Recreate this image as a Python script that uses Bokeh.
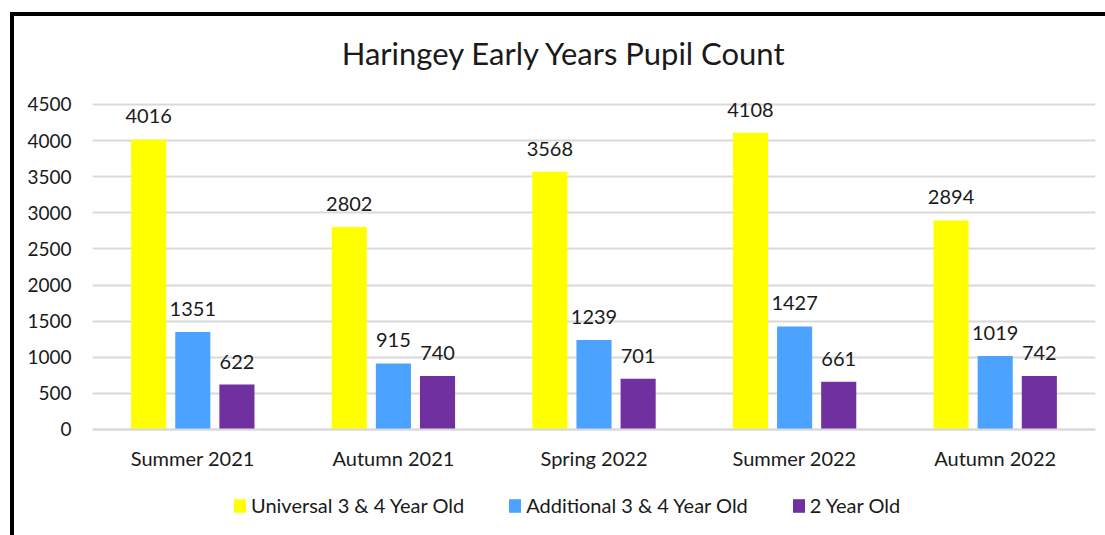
from bokeh.plotting import figure
from bokeh.models import (ColumnDataSource, FactorRange, Range1d, Legend, LegendItem,
                          FixedTicker, LabelSet, Label)
from bokeh.core.properties import value
from bokeh.transform import dodge
from bokeh.embed import file_html
from bokeh.resources import INLINE

terms = ["Summer 2021", "Autumn 2021", "Spring 2022", "Summer 2022", "Autumn 2022"]
series_names = ["Universal 3 & 4 Year Old", "Additional 3 & 4 Year Old", "2 Year Old"]
universal = [4016, 2802, 3568, 4108, 2894]
additional = [1351, 915, 1239, 1427, 1019]
two_year = [622, 740, 701, 661, 742]
colors = ["#FFFF00", "#4BA3FF", "#7030A0"]
y_ticks = [0, 500, 1000, 1500, 2000, 2500, 3000, 3500, 4000, 4500]
title_text = "Haringey Early Years Pupil Count"

FONT = "Lato"
TXT = "#1a1a1a"

src = ColumnDataSource(dict(term=terms, universal=universal, additional=additional,
                            two_year=two_year,
                            l_u=[str(v) for v in universal],
                            l_a=[str(v) for v in additional],
                            l_t=[str(v) for v in two_year]))

# the frame spans the whole chart height; the x axis sits at value 0
p = figure(x_range=FactorRange(*terms), y_range=Range1d(-1523, 5718),
           width=1095, height=523, output_backend="svg", toolbar_location=None,
           min_border_left=78, min_border_right=14, min_border_top=0, min_border_bottom=0)
p.styles = {"border-left": "4px solid black", "border-top": "4px solid black",
            "margin-left": "10px", "margin-top": "12px"}
p.outline_line_color = None
p.background_fill_color = "white"
p.border_fill_color = "white"

title = Label(x=472, y=487, x_units="screen", y_units="screen", text=title_text,
              text_align="center", text_baseline="middle",
              text_font=FONT, text_font_size="31px", text_color=TXT)
p.add_layout(title)

offsets = [-0.22, 0.0, 0.22]
cols = ["universal", "additional", "two_year"]
lcols = ["l_u", "l_a", "l_t"]
renderers = []
for off, c, lc, col in zip(offsets, cols, lcols, colors):
    r = p.vbar(x=dodge("term", off, range=p.x_range), top=c, width=0.175, source=src,
               fill_color=col, line_color=None)
    renderers.append(r)
    labels = LabelSet(x=dodge("term", off, range=p.x_range), y=c, text=lc, source=src,
                      text_align="center", text_baseline="bottom", y_offset=16,
                      text_font=value(FONT), text_font_size=value("20px"),
                      text_color=value(TXT))
    p.add_layout(labels)

# axes
p.yaxis.ticker = FixedTicker(ticks=y_ticks)
p.yaxis.axis_line_color = None
p.yaxis.major_tick_line_color = None
p.yaxis.minor_tick_line_color = None
p.yaxis.major_label_standoff = 15
p.yaxis.major_label_text_font = FONT
p.yaxis.major_label_text_font_size = "19px"
p.yaxis.major_label_text_color = TXT

p.xaxis.fixed_location = 0
p.xaxis.axis_line_color = "#d9d9d9"
p.xaxis.axis_line_width = 2
p.xaxis.major_tick_line_color = None
p.xaxis.minor_tick_line_color = None
p.xaxis.major_label_standoff = 11
p.xaxis.major_label_text_font = FONT
p.xaxis.major_label_text_font_size = "20px"
p.xaxis.major_label_text_color = TXT

p.xgrid.grid_line_color = None
p.ygrid.grid_line_color = "#d9d9d9"
p.ygrid.grid_line_width = 2

legend = Legend(items=[LegendItem(label=n, renderers=[r]) for n, r in zip(series_names, renderers)],
                orientation="horizontal", location=(140, 22),
                glyph_width=15, glyph_height=17, label_standoff=4, spacing=43,
                padding=0, margin=0, border_line_color=None, background_fill_alpha=0,
                label_text_font=FONT, label_text_font_size="20px", label_text_color=TXT)
p.add_layout(legend, "center")

open("out.html", "w").write(file_html(p, INLINE))
